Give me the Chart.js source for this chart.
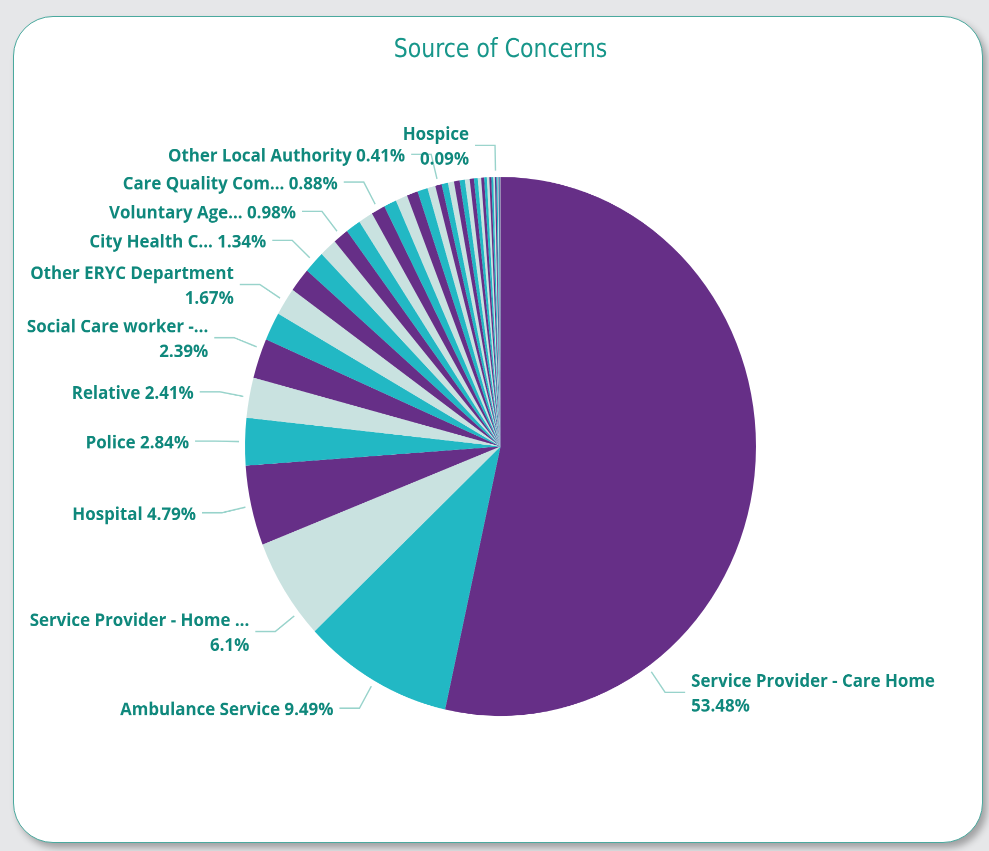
<!DOCTYPE html>
<html>
<head>
<meta charset="utf-8">
<script src="https://cdn.jsdelivr.net/npm/chart.js@4.4.1/dist/chart.umd.min.js"></script>
<style>
html, body { margin: 0; padding: 0; width: 989px; height: 851px; overflow: hidden; background: #e6e7e9; }
#card { position: absolute; left: 13px; top: 16px; width: 968px; height: 825px; background: #fff;
        border: 1.5px solid #4aa99e; border-radius: 40px; box-shadow: 4px 5px 7px rgba(0,0,0,0.3); }
#wrap { position: absolute; left: 14px; top: 17px; width: 970px; height: 784px;
        transform: scaleY(1.0548); transform-origin: 0 0; }
</style>
</head>
<body>
<div id="card"></div>
<div id="wrap"><canvas id="pieChart"></canvas></div>
<script>
// categorias ('' = fatia sem rótulo visível no original)
var categorias = ['Service Provider - Care Home', 'Ambulance Service', 'Service Provider - Home ...',
                  'Hospital', 'Police', 'Relative', 'Social Care worker -...', '',
                  'Other ERYC Department', '', 'City Health C...', '', 'Voluntary Age...', '', '',
                  'Care Quality Com...', '', '', '', '', '', 'Other Local Authority',
                  '', '', '', '', '', '', '', '', '', '', '', '', '', '',
                  'Hospice', '', '', '', '', ''];

// percentagens (as fatias sem rótulo são estimadas)
var valores = [53.48, 9.49, 6.10, 4.79, 2.84, 2.41, 2.39, 1.70,
               1.67, 1.45, 1.34, 1.10, 0.98, 0.95, 0.92,
               0.88, 0.80, 0.75, 0.70, 0.65, 0.50, 0.41,
               0.40, 0.38, 0.36, 0.33, 0.30, 0.27, 0.24, 0.21, 0.19, 0.17, 0.15, 0.13, 0.12, 0.10,
               0.09, 0.08, 0.06, 0.05, 0.04, 0.03];

var paleta = ['#662f87', '#22b8c4', '#c9e2e0'];
var corTexto = '#0f887c';
var corLinha = '#98d3cb';

// onde a linha de chamada sai da fatia (fração do arco) e quais rótulos quebram em 2 linhas
var layoutRotulos = {
    0: { at: 0.752, wrap: true },
    2: { at: 0.245, wrap: true },
    6: { at: 0.74, wrap: true },
    8: { wrap: true },
    36: { wrap: true }
};

var leaderPlugin = {
    id: 'leaderLabels',
    afterDatasetsDraw: function (chart) {
        var ctx = chart.ctx;
        var meta = chart.getDatasetMeta(0);
        var total = valores.reduce(function (a, b) { return a + b; }, 0);
        ctx.save();
        ctx.font = '700 16.9px "Open Sans"';
        ctx.textBaseline = 'middle';
        for (var i = 0; i < meta.data.length; i++) {
            if (!categorias[i]) continue;
            var arc = meta.data[i].getProps(['x', 'y', 'startAngle', 'endAngle', 'outerRadius'], true);
            var lay = layoutRotulos[i] || {};
            var f = lay.at !== undefined ? lay.at : 0.5;
            var a = arc.startAngle + (arc.endAngle - arc.startAngle) * f;
            var c = Math.cos(a), s = Math.sin(a);
            var x0 = arc.x + c * (arc.outerRadius + 6), y0 = arc.y + s * (arc.outerRadius + 6);
            var x1 = arc.x + c * (arc.outerRadius + 30), y1 = arc.y + s * (arc.outerRadius + 30);
            var dir = c < 0 ? -1 : 1;
            var x2 = x1 + dir * 20;
            ctx.strokeStyle = corLinha;
            ctx.lineWidth = 1.4;
            ctx.beginPath();
            ctx.moveTo(x0, y0);
            ctx.lineTo(x1, y1);
            ctx.lineTo(x2, y1);
            ctx.stroke();

            var pct = Math.round(valores[i] / total * 10000) / 100 + '%';
            var tx = x2 + dir * 6;
            ctx.fillStyle = corTexto;
            ctx.textAlign = dir < 0 ? 'right' : 'left';
            if (lay.wrap) {
                ctx.fillText(categorias[i], tx, y1 - 10);
                ctx.fillText(pct, tx, y1 + 13.5);
            } else {
                ctx.fillText(categorias[i] + ' ' + pct, tx, y1 + 2);
            }
        }
        ctx.restore();
    }
};

var pieChart;

function initiatePieChart() {
    var ctx = document.getElementById('pieChart').getContext('2d');
    pieChart = new Chart(ctx, {
        type: 'pie',
        data: {
            labels: categorias,
            datasets: [{
                data: valores,
                backgroundColor: valores.map(function (v, i) { return paleta[i % 3]; }),
                borderWidth: 0,
                hoverOffset: 0
            }]
        },
        options: {
            responsive: true,
            maintainAspectRatio: false,
            devicePixelRatio: 2,
            animation: false,
            events: [],
            layout: { padding: { left: 3, right: 0, top: 0, bottom: 121.4 } },
            plugins: {
                legend: { display: false },
                tooltip: { enabled: false },
                title: {
                    display: true,
                    text: 'Source of Concerns',
                    color: '#17968a',
                    font: { family: '"DejaVu Sans Condensed", "DejaVu Sans", sans-serif', size: 24.5, weight: 'normal' },
                    padding: { top: 17, bottom: 105.2 }
                }
            }
        },
        plugins: [leaderPlugin]
    });
}

document.addEventListener('DOMContentLoaded', function () {
    initiatePieChart();
});
</script>
</body>
</html>
